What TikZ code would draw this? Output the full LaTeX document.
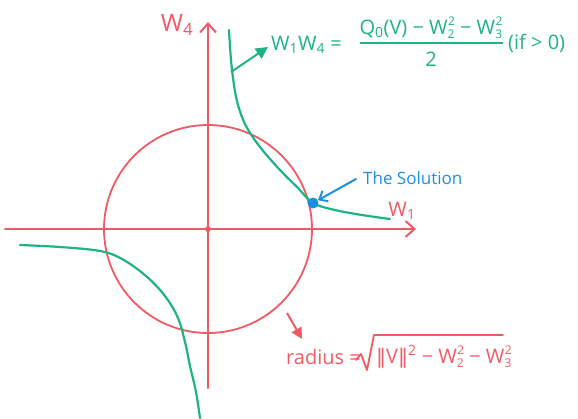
\documentclass[tikz,border=0pt]{standalone}
\usepackage{fontspec}
\setmainfont{Open Sans}
\newfontfamily\djv{DejaVu Sans}
\usetikzlibrary{arrows.meta}
\definecolor{rd}{HTML}{F05A64}
\definecolor{gr}{HTML}{1DB386}
\definecolor{bl}{HTML}{1E8FE0}
\newcommand\subsup[2]{\raisebox{-4pt}{\fontsize{12}{12}\selectfont#1}\kern-6.5pt\raisebox{9pt}{\fontsize{12}{12}\selectfont#2}}
\begin{document}
\begin{tikzpicture}[x=1pt,y=-1pt,
  axis/.style={rd,line width=2pt,line cap=round,-{Straight Barb[length=9pt,width=16pt,line width=2pt]}},
  curve/.style={gr,line width=2.2pt,line cap=round},
  lbl/.style={inner sep=0pt,font=\fontsize{20}{22}\selectfont}]
\useasboundingbox (0,0) rectangle (578,418);
% axes
\coordinate (xl) at (5,229);
\coordinate (xr) at (416,229);
\coordinate (yb) at (208,388);
\coordinate (yt) at (208,22);
\draw[axis] (xl) -- (xr);
\draw[axis] (yb) -- (yt);
\node[circle,fill=rd,inner sep=0pt,minimum size=6pt] (o) at (208,229) {};
% circle
\draw[rd,line width=1.8pt] (o) circle[radius=104];
% labels
\node[lbl,rd,font=\fontsize{24}{26}\selectfont] (w4) at (177,25) {W\textsubscript{4}};
\node[lbl,rd] (w1) at (402,211) {W\textsubscript{1}};
% hyperbola branches
\draw[curve] plot[smooth,tension=0.6] coordinates {(229,30) (231,60) (234,85) (238,105) (246,126) (260,147) (280,170) (298,188) (313,203) (335,210) (362,215) (390,219)};
\draw[curve] plot[smooth,tension=0.6] coordinates {(20,245) (60,247) (100,251) (122,259) (146,276) (165,296) (178,318) (185,342) (190,366) (196,392) (200,418)};
% formula arrow
\coordinate (ga) at (231,72);
\coordinate (gb) at (268,47);
\draw[gr,line width=2pt,-{Triangle[length=12pt,width=12pt]}] (ga) -- (gb);
\node[lbl,gr,anchor=west] (f1) at (271,45) {W\textsubscript{1}W\textsubscript{4} =};
\node[lbl,gr] (num) at (431,28) {Q\textsubscript{0}(V) − W\subsup{2}{2} − W\subsup{3}{2}};
\coordinate (fbl) at (360,43);
\coordinate (fbr) at (503,43);
\draw[gr,line width=2pt] (fbl) -- (fbr);
\node[lbl,gr] (den) at (431,59) {2};
\node[lbl,gr,anchor=west] (cond) at (508,43) {(if > 0)};
% solution
\node[circle,fill=bl,inner sep=0pt,minimum size=11pt] (sol) at (313,203) {};
\node[lbl,bl,anchor=west,font=\fontsize{17}{19}\selectfont] (st) at (363,178) {The Solution};
\coordinate (ba) at (356,179);
\draw[bl,line width=2pt,line cap=round,-{Straight Barb[length=7pt,width=12pt,line width=2pt]}] (ba) -- (sol);
% radius
\coordinate (ra) at (287,313);
\coordinate (rb) at (302,339);
\draw[rd,line width=2pt,-{Triangle[length=11pt,width=11pt]}] (ra) -- (rb);
\node[lbl,rd,anchor=west] (rad) at (286,357) {radius =};
\coordinate (r1) at (356,360);
\coordinate (r2) at (361,354);
\coordinate (r3) at (367,370);
\coordinate (r4) at (374,335);
\coordinate (r5) at (503,335);
\draw[rd,line width=1.8pt,line join=round,line cap=round] (r1) -- (r2) -- (r3) -- (r4) -- (r5);
\node[lbl,rd,anchor=west] (rad2) at (376,357) {{\djv‖}V{\djv‖}\textsuperscript{2} − W\subsup{2}{2} − W\subsup{3}{2}};
\end{tikzpicture}
\end{document}
